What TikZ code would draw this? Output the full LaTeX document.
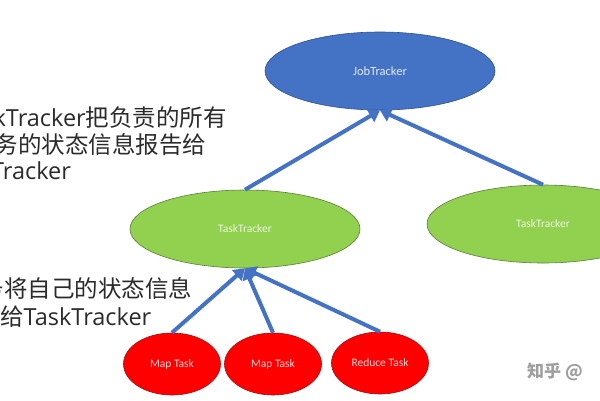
\documentclass[tikz,border=0pt]{standalone}
\usepackage{fontspec}
\setmainfont{Carlito}
\newfontfamily\cjk{Noto Sans CJK SC}
\newfontfamily\latin{Open Sans}
\usepackage{tikz}
\usetikzlibrary{arrows.meta,shapes.geometric}
\definecolor{jobblue}{HTML}{4472C4}
\definecolor{jobedge}{HTML}{2F528F}
\definecolor{taskgreen}{HTML}{92D050}
\definecolor{greenedge}{HTML}{5B7F38}
\definecolor{taskred}{HTML}{FF0000}
\definecolor{rededge}{HTML}{A01010}
\definecolor{notegray}{HTML}{2B2B2B}

\begin{document}
\begin{tikzpicture}[x=1pt, y=-1pt,
  every node/.style={font=\fontsize{11.5}{13}\selectfont, inner sep=0pt},
  tracker/.style={ellipse, minimum width=230pt, minimum height=78pt, line width=0.6pt},
  task/.style={ellipse, minimum width=97pt, minimum height=62pt, line width=0.6pt,
    fill=taskred, draw=rededge, text=white!85!taskred},
  report/.style={line width=4pt, draw=jobblue, -{Triangle[length=11pt,width=14pt]}},
  note/.style={anchor=base west, text=notegray,
    font=\cjk\fontsize{23.5}{27}\selectfont}]
  \useasboundingbox (0,0) rectangle (600,400);
  \clip (0,0) rectangle (600,400);
  \fill[white] (0,0) rectangle (600,400);

  % trackers
  \node[tracker, fill=jobblue, draw=jobedge, text=white!85!jobblue,
    font=\fontsize{12.5}{14}\selectfont] (jt) at (380,71) {JobTracker};
  \node[tracker, fill=taskgreen, draw=greenedge, text=white!80!taskgreen] (ttl) at (245,229) {TaskTracker};
  \node[tracker, fill=taskgreen, draw=greenedge, text=white!80!taskgreen,
    minimum width=232pt] (ttr) at (543,224) {TaskTracker};

  % tasks
  \node[task] (map1) at (172,364) {Map Task};
  \node[task] (map2) at (273,364) {Map Task};
  \node[task] (reduce) at (380,363) {Reduce Task};

  % reports
  \draw[report] (ttl.north) -- (jt.south);
  \draw[report] (ttr.north) -- (jt.south);
  \draw[report] (map1.north) -- (ttl.south);
  \draw[report] (map2.north) -- (ttl.south);
  \draw[report] (reduce.north) -- (ttl.south);

  % notes, cut at the left edge as in the slide
  \node[note] (up1) at (-42,126) {{\latin TaskTracker}把负责的所有};
  \node[note] (up2) at (-29,153) {任务的状态信息报告给};
  \node[note] (up3) at (-44,179) {\latin JobTracker};
  \node[note] (low1) at (-43,297) {任务将自己的状态信息};
  \node[note] (low2) at (-47,325) {发送给{\latin TaskTracker}};

  \node[anchor=base west, text=gray!75, font=\cjk\bfseries\fontsize{17}{17}\selectfont]
    (mark) at (527,377) {知乎 @};
\end{tikzpicture}
\end{document}
